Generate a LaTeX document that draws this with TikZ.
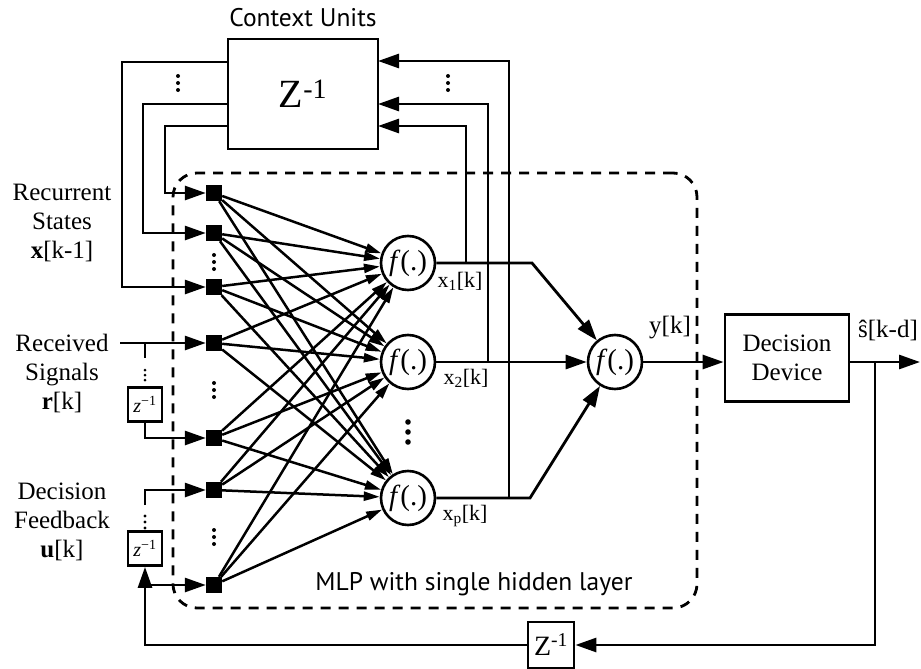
\documentclass[tikz,border=0pt]{standalone}
\usepackage{fontspec}
\setmainfont{Liberation Serif}
\setsansfont{PT Sans}
\usetikzlibrary{arrows.meta}

% italic f followed by an upright (.)
\newcommand\fofdot{\textit{f}(.)}
% three stacked dots centred at (#1,#2), spacing #3, radius #4
\newcommand\dotcol[4]{%
  \foreach \k in {-1,0,1} \fill (#1,#2+\k*#3) circle[radius=#4];}

\begin{document}
\begin{tikzpicture}[x=1pt,y=-1pt,
  wire/.style={line width=2.8pt},
  sig/.style={wire,-{Triangle[length=21pt,width=14pt]}},
  syn/.style={line width=2.5pt,-{Triangle[length=16pt,width=9pt]}},
  unit/.style={fill=black,minimum size=16pt,inner sep=0pt},
  neuron/.style={circle,draw,line width=2.6pt,minimum size=54pt,inner sep=0pt,
                 font=\fontsize{29}{29}\selectfont},
  block/.style={draw,line width=2.8pt,inner sep=0pt},
  lbl/.style={font=\fontsize{25}{29}\selectfont,align=center},
  sub/.style={font=\fontsize{22}{22}\selectfont},
  sans/.style={font=\sffamily\fontsize{25.5}{25.5}\selectfont},
]
\useasboundingbox (0,0) rectangle (921,669);

% MLP boundary
\node[draw,line width=2.8pt,dash pattern=on 10pt off 8pt,rounded corners=24pt,
      minimum width=524pt,minimum height=435pt,inner sep=0pt] (mlp) at (435,390.5) {};
\node[sans] (mlplbl) at (474,584) {MLP with single hidden layer};

% input units
\foreach \n/\y in {1/193,2/233,3/287,4/343,5/438,6/490,7/585}
  \node[unit] (in\n) at (214,\y) {};

% hidden and output neurons
\node[neuron] (h1) at (408,263) {\fofdot};
\node[neuron] (h2) at (408,362) {\fofdot};
\node[neuron] (h3) at (408,498) {\fofdot};
\node[neuron] (o)  at (615,362) {\fofdot};

% fully connected input -> hidden
\foreach \i in {1,...,7}
  \foreach \j in {1,2,3}
    \draw[syn] (in\i) -- (h\j);

% context units
\node[sans] (ctxlbl) at (303,18) {Context Units};
\node[block,minimum width=150pt,minimum height=110pt,
      font=\fontsize{40}{40}\selectfont] (ctx) at (303,94) {Z\textsuperscript{-1}};

% delayed states back into the input layer
\draw[sig] (228,62)  -| (122,287) -- (in3);
\draw[sig] (228,104) -| (143,233) -- (in2);
\draw[sig] (228,126) -| (165,193) -- (in1);
\dotcol{178}{83}{7}{2}

% hidden outputs tapped into the context units
\draw[sig] (509,498) |- (378,61);
\draw[sig] (488,362) |- (378,104);
\draw[sig] (466,263) |- (378,126);
\dotcol{448}{83}{7}{2}

% hidden -> output neuron
\draw[sig] (h1) -- (532,263) -- (o);
\draw[sig] (h2) -- (o);
\draw[sig] (h3) -- (530,498) -- (o);
\dotcol{408}{432}{10}{2.8}

% dots between input units
\dotcol{214}{262}{7}{2}
\dotcol{214}{390}{7}{2}
\dotcol{214}{537}{7}{2}

% hidden labels
\node[sub] (x1) at (460,281) {x\textsubscript{1}[k]};
\node[sub] (x2) at (466,378) {x\textsubscript{2}[k]};
\node[sub] (xp) at (465,516) {x\textsubscript{p}[k]};

% decision device
\node[block,minimum width=124pt,minimum height=87pt,lbl] (dec) at (787,358) {Decision\\Device};
\draw[sig] (o) -- (o -| dec.west);
\node[lbl] (ylbl) at (670,328) {y[k]};
\coordinate (out) at (920,362);
\draw[sig] (dec.east |- o) -- (out);
\node[lbl] (slbl) at (888,330) {ŝ[k-d]};

% received signals with tapped delay line
\node[lbl] (rcv) at (62,373) {Received\\Signals\\\textbf{r}[k]};
\draw[sig] (120,343) -- (in4);
\node[block,minimum size=34pt,font=\fontsize{20}{20}\selectfont] (zr) at (145,404.5)
  {\textit{z}\textsuperscript{−1}};
\draw[wire] (145,343) -- (145,358);
\dotcol{145}{375}{5}{1.5}
\draw[sig] (zr.south) |- (in5);

% decision feedback with tapped delay line
\node[lbl] (dfb) at (62,522) {Decision\\Feedback\\\textbf{u}[k]};
\node[block,minimum size=34pt,font=\fontsize{20}{20}\selectfont] (zu) at (145,548.5)
  {\textit{z}\textsuperscript{−1}};
\draw[sig] (145,505) |- (in6);
\dotcol{145}{522}{6}{1.7}
\draw[sig] (145,585) -- (in7);

% feedback path through the bottom delay
\node[block,minimum size=46pt,font=\fontsize{28}{28}\selectfont] (zb) at (551,645)
  {Z\textsuperscript{-1}};
\draw[sig] (875,362) |- (zb.east);
\draw[sig] (zb.west) -| (zu.south);

% recurrent states label
\node[lbl] (rec) at (62,223) {Recurrent\\States\\\textbf{x}[k-1]};
\end{tikzpicture}
\end{document}
